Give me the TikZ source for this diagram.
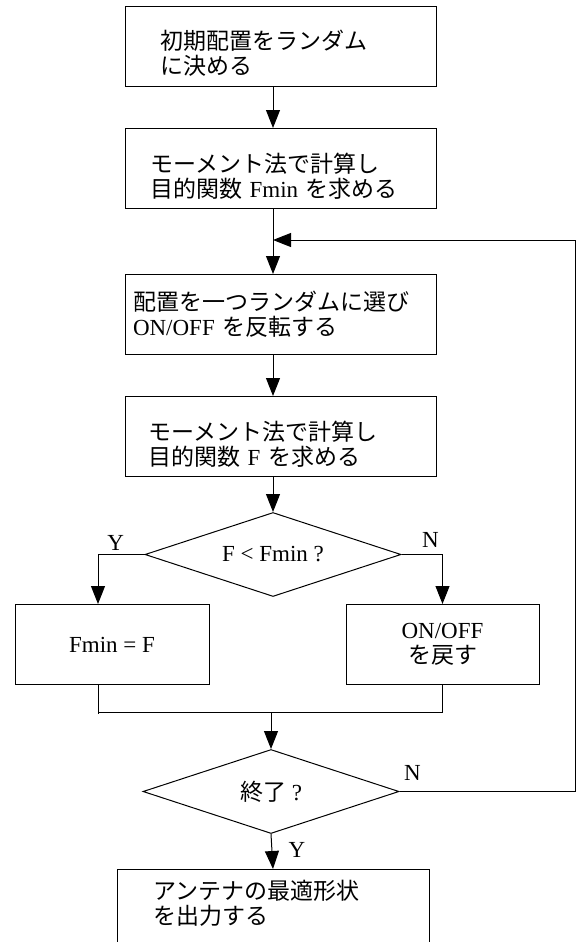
\documentclass[tikz,border=0pt]{standalone}
\usepackage{fontspec}
\setmainfont{Liberation Serif}
\newfontfamily\jp{Noto Sans CJK JP}
\usetikzlibrary{shapes.geometric,arrows.meta,positioning,calc}
\newcommand{\fsize}{\fontsize{11.5pt}{12.5pt}\selectfont}

\begin{document}
\begin{tikzpicture}[
    line width=0.5pt,
    box/.style={rectangle, draw, minimum height=40pt, inner ysep=2pt, align=left, font=\fsize\jp},
    lower/.style={execute at begin node={\rule{0pt}{#1}}},
    raise/.style={execute at end node={\endgraf\vspace*{#1}}},
    decision/.style={diamond, draw, aspect=3, inner sep=0pt, minimum width=128pt, minimum height=42pt, font=\fsize},
    lbl/.style={inner sep=0pt, font=\fsize},
    arrow/.style={-{Triangle[length=9pt, width=7pt]}}
  ]
    \useasboundingbox (0,0) rectangle (290.5pt,-471pt);

    % Main flow
    \node[box, lower=16.5pt, text width=120.5pt, inner xsep=17.5pt] (init) at (140.25pt,-23.25pt) {初期配置をランダム\\に決める};
    \node[box, lower=17.5pt, text width=130.5pt, inner xsep=12.5pt, below=20.5pt of init] (calcmin) {モーメント法で計算し\\目的関数 {\rmfamily Fmin} を求める};
    \node[box, text width=147.5pt, inner xsep=4pt, below=32.5pt of calcmin] (flip) {配置を一つランダムに選び\\{\rmfamily ON/OFF} を反転する};
    \node[box, lower=17pt, text width=132.5pt, inner xsep=11.5pt, below=20.5pt of flip] (calcf) {モーメント法で計算し\\目的関数 {\rmfamily F} を求める};
    \node[decision, below=17.5pt of calcf, xshift=-3.75pt] (cmp) {F < Fmin ?};
    \node[box, minimum width=97pt, align=center, below=3.5pt of cmp, xshift=-80.5pt] (setmin) {\rmfamily Fmin = F};
    \node[box, minimum width=96.5pt, align=center, below=3.5pt of cmp, xshift=84.75pt] (reset) {{\rmfamily ON/OFF}\\を戻す};
    \node[decision, below=76pt of cmp, xshift=-1pt] (done) {{\jp 終了} ?};
    \node[box, raise=5pt, minimum height=38.5pt, text width=120pt, inner xsep=18pt, below=17.5pt of done, xshift=1pt] (output) {アンテナの最適形状\\を出力する};

    % Arrows
    \draw[arrow] (init.south -| cmp) -- (calcmin.north -| cmp);
    \coordinate (join) at ($(calcmin.south -| cmp)+(0,-15.5pt)$);
    \draw[arrow] (calcmin.south -| cmp) -- (flip.north -| cmp);
    \draw[arrow] (flip.south -| cmp) -- (calcf.north -| cmp);
    \draw[arrow] (calcf.south -| cmp) -- (cmp.north);

    % Branches and merge
    \coordinate (yes) at ($(setmin.north)+(-7pt,0)$);
    \draw[arrow] (cmp.west) -| (yes);
    \draw[arrow] (cmp.east) -| (reset.north);
    \coordinate (merge) at ($(setmin.south)+(-7pt,-13.5pt)$);
    \draw (yes |- setmin.south) -- ++(0,-14.5pt);
    \draw (merge) -- (merge -| reset.south) -- (reset.south);
    \draw[arrow] (merge -| done) -- (done.north);
    \draw[arrow] (done.south) -- (output.north);

    % Loop back
    \coordinate (back) at ($(done.east)+(88pt,0)$);
    \draw[arrow] (done.east) -- (back) |- (join);

    % Labels for decision paths
    \node[lbl, above left=2pt and 10pt of cmp.west] (cmpyes) {Y};
    \node[lbl, above right=3.5pt and 10pt of cmp.east] (cmpno) {N};
    \node[lbl, above right=5.5pt and 2pt of done.east] (doneno) {N};
    \node[lbl, below right=4pt and 8.5pt of done.south] (doneyes) {Y};
  \end{tikzpicture}
\end{document}
